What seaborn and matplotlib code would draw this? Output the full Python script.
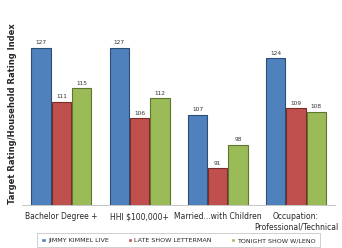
import matplotlib
matplotlib.use("Agg")
import matplotlib.pyplot as plt
import seaborn as sns
import pandas as pd

categories = ["Bachelor Degree +", "HHI $100,000+", "Married...with Children",
              "Occupation:\nProfessional/Technical"]
series = ["JIMMY KIMMEL LIVE", "LATE SHOW LETTERMAN", "TONIGHT SHOW W/LENO"]
kimmel = [127, 127, 107, 124]
letterman = [111, 106, 91, 109]
leno = [115, 112, 98, 108]
colors = ["#4F81BD", "#C0504D", "#9BBB59"]
edges = ["#2C4D75", "#772C2A", "#5F7530"]

rows = []
for s, vals in zip(series, [kimmel, letterman, leno]):
    for c, v in zip(categories, vals):
        rows.append({"cat": c, "series": s, "val": v})
df = pd.DataFrame(rows)

sns.set_style("white")
fig = plt.figure(figsize=(3.42, 2.48), dpi=100)
ax = fig.add_axes([0.065, 0.173, 0.915, 0.74])
sns.barplot(data=df, x="cat", y="val", hue="series", palette=colors,
            width=0.78, gap=0.05, saturation=1, ax=ax, legend=True)
for cont, ec in zip(ax.containers, edges):
    for p in cont:
        p.set_edgecolor(ec)
        p.set_linewidth(0.8)
ax.set_ylim(80, 135)
for cont in ax.containers:
    ax.bar_label(cont, fmt="%d", fontsize=4.2, padding=2, color="#333333")
ax.set_yticks([])
ax.set_xlabel("")
ax.set_ylabel("Target Rating/Household Rating Index", fontsize=6, fontweight="bold",
              labelpad=4)
ax.tick_params(axis="x", labelsize=5.5, length=0, pad=5)
for sp in ["top", "right", "left"]:
    ax.spines[sp].set_visible(False)
ax.spines["bottom"].set_color("#BBBBBB")
ax.spines["bottom"].set_linewidth(0.6)
leg = ax.legend(loc="upper center", bbox_to_anchor=(0.5, -0.135), ncol=3,
                fontsize=4.6, frameon=True, fancybox=False, handlelength=0.7,
                handleheight=0.7, columnspacing=3.0, handletextpad=0.3,
                borderpad=0.7)
leg.get_frame().set_edgecolor("#AAAAAA")
leg.get_frame().set_linewidth(0.5)
fig.savefig("out.png", dpi=100)
